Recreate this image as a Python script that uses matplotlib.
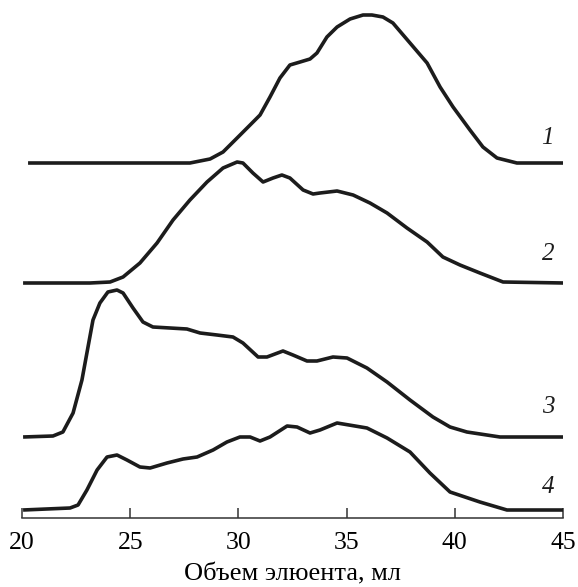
import matplotlib
matplotlib.use("Agg")
import matplotlib.pyplot as plt

plt.rcParams["font.family"] = ["Liberation Serif", "DejaVu Serif"]

# elution volume (ml) and detector signal (arb. units)
x1 = [20.28, 27.76, 28.69, 29.29, 29.94, 30.54, 31.0, 31.46, 31.92, 32.38, 32.85,
      33.31, 33.63, 34.09, 34.56, 35.16, 35.76, 36.17, 36.68, 37.14, 37.93, 38.72,
      39.32, 39.92, 40.70, 41.30, 41.95, 42.87, 45.05]
y1 = [0, 0, 4, 11, 25, 38, 48, 66, 85, 98, 101,
      104, 110, 126, 136, 144, 148, 148, 146, 140, 120, 100,
      76, 56, 33, 16, 5, 0, 0]

x2 = [20.05, 23.14, 24.07, 24.67, 25.45, 26.24, 26.98, 27.76, 28.55, 29.29, 29.94,
      30.21, 30.67, 31.14, 31.60, 32.01, 32.38, 32.99, 33.45, 33.77, 34.56, 35.30,
      36.08, 36.87, 37.79, 38.72, 39.45, 40.24, 41.16, 42.23, 45.05]
y2 = [0, 0, 1, 6, 20, 40, 63, 83, 101, 115, 121,
      120, 110, 101, 105, 108, 105, 93, 89, 90, 92, 88,
      80, 70, 55, 41, 26, 18, 10, 1, 0]

x3 = [20.05, 21.43, 21.89, 22.36, 22.77, 23.05, 23.28, 23.60, 23.97, 24.39, 24.67,
      25.13, 25.59, 26.05, 26.84, 27.62, 28.23, 29.01, 29.75, 30.21, 30.91, 31.32,
      32.06, 32.52, 33.17, 33.63, 34.37, 35.02, 35.94, 36.87, 37.93, 38.99, 39.78,
      40.56, 42.09, 45.05]
y3 = [0, 1, 5, 24, 57, 90, 117, 134, 145, 147, 144,
      129, 115, 110, 109, 108, 104, 102, 100, 94, 80, 80,
      86, 82, 76, 76, 80, 79, 69, 55, 37, 20, 10,
      5, 0, 0]

x4 = [20.05, 22.22, 22.59, 23.0, 23.47, 23.93, 24.39, 24.85, 25.45, 25.92, 26.70,
      27.44, 28.09, 28.83, 29.47, 30.07, 30.54, 31.0, 31.46, 32.25, 32.71, 33.31,
      33.77, 34.56, 35.94, 36.87, 37.93, 38.85, 39.78, 41.16, 42.41, 45.05]
y4 = [0, 2, 5, 20, 40, 53, 55, 50, 43, 42, 47,
      51, 53, 60, 68, 73, 73, 69, 73, 84, 83, 77,
      80, 87, 82, 72, 58, 37, 18, 8, 0, 0]

curves = [(x1, y1), (x2, y2), (x3, y3), (x4, y4)]
names = ["1", "2", "3", "4"]
offsets = [355, 235, 81, 8]       # vertical shift of each trace
label_y = [380, 264, 111, 31]

fig = plt.figure(figsize=(5.78, 5.87), dpi=100)
ax = fig.add_axes([22 / 578, 69 / 587, 541 / 578, 518 / 587])

for (x, y), off, name, ly in zip(curves, offsets, names, label_y):
    ax.plot(x, [v + off for v in y], color="#1c1c1c", lw=2.6,
            solid_joinstyle="round", solid_capstyle="butt")
    ax.text(44.3, ly, name, fontsize=18, style="italic",
            ha="center", va="center", color="#1c1c1c")

ax.set_xlim(20, 45)
ax.set_ylim(0, 518)
for s in ["left", "right", "top"]:
    ax.spines[s].set_visible(False)
ax.spines["bottom"].set_linewidth(1.1)
ax.spines["bottom"].set_color("#333333")
ax.set_yticks([])
ax.set_xticks([20, 25, 30, 35, 40, 45])
ax.tick_params(axis="x", direction="in", length=7, width=1.1, color="#333333",
               pad=10, labelsize=18.5)
ax.set_xlabel("Объем элюента, мл", fontsize=19, labelpad=7)

fig.savefig("out.png", dpi=100)
